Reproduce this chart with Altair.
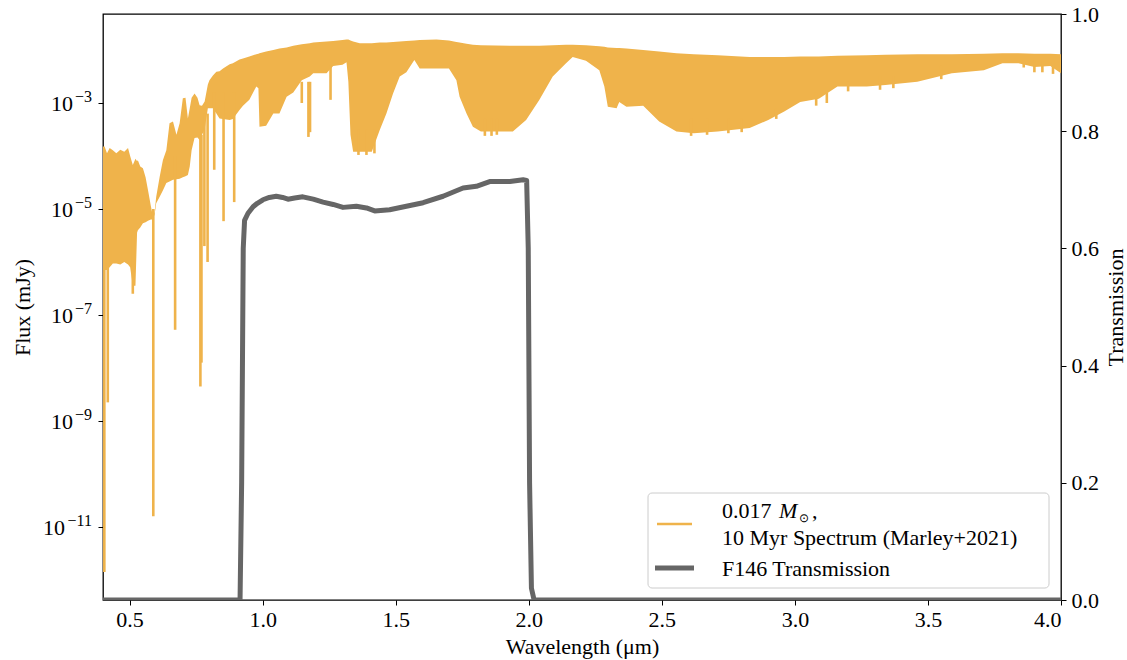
import altair as alt
import pandas as pd

# ---------------- data ----------------
# spectrum envelope: wavelength (um), lower / upper edge as log10(flux mJy)
wl = [0.400, 0.406, 0.415, 0.425, 0.437, 0.450, 0.465, 0.480, 0.494, 0.502, 0.512,
      0.522, 0.528, 0.531, 0.540, 0.550, 0.560, 0.569, 0.580, 0.588, 0.594, 0.600,
      0.613, 0.625, 0.638, 0.650, 0.663, 0.676, 0.688, 0.700, 0.710, 0.719, 0.726,
      0.733, 0.744, 0.755, 0.763, 0.772, 0.782, 0.794, 0.800, 0.813, 0.826, 0.838,
      0.851, 0.876, 0.888, 0.913, 0.926, 0.950, 0.976, 0.984, 0.988, 1.013, 1.040,
      1.063, 1.090, 1.115, 1.147, 1.177, 1.190, 1.240, 1.265, 1.300, 1.315, 1.322,
      1.330, 1.340, 1.365, 1.410, 1.440, 1.465, 1.490, 1.515, 1.540, 1.570, 1.590,
      1.653, 1.700, 1.728, 1.740, 1.766, 1.790, 1.820, 1.940, 1.990, 2.040, 2.090,
      2.140, 2.165, 2.215, 2.265, 2.284, 2.297, 2.330, 2.340, 2.367, 2.430, 2.490,
      2.555, 2.620, 2.710, 2.830, 2.900, 2.960, 3.020, 3.090, 3.160, 3.270, 3.340,
      3.460, 3.590, 3.710, 3.780, 3.840, 3.900, 3.960, 4.000]
lo_exp = [-6.15, -6.15, -6.15, -6.10, -6.03, -6.03, -6.05, -6.00, -6.05, -6.10, -6.45,
          -6.45, -5.45, -5.40, -5.35, -5.27, -5.25, -5.22, -5.20, -5.20, -5.10, -4.89,
          -4.77, -4.65, -4.51, -4.48, -4.45, -4.44, -4.43, -4.40, -4.38, -4.36, -4.20,
          -3.89, -3.66, -3.65, -3.70, -3.60, -3.50, -3.10, -3.10, -3.10, -3.20, -3.29,
          -3.30, -3.32, -3.30, -3.13, -3.05, -2.94, -2.69, -2.72, -3.45, -3.43, -3.20,
          -3.20, -2.88, -2.80, -2.57, -2.50, -2.44, -2.44, -2.30, -2.28, -2.23, -2.60,
          -3.60, -3.92, -3.92, -3.92, -3.51, -3.20, -2.82, -2.50, -2.42, -2.19, -2.35,
          -2.35, -2.35, -2.57, -2.88, -3.20, -3.45, -3.54, -3.54, -3.32, -2.94, -2.50,
          -2.25, -2.13, -2.20, -2.38, -2.69, -3.07, -3.10, -2.98, -3.07, -3.05, -3.35,
          -3.54, -3.57, -3.54, -3.47, -3.32, -3.16, -2.98, -2.92, -2.69, -2.69, -2.66,
          -2.60, -2.44, -2.38, -2.25, -2.25, -2.32, -2.30, -2.44]
hi_exp = [-3.82, -3.82, -3.95, -3.85, -3.89, -3.95, -3.88, -3.92, -3.85, -4.00, -4.17,
          -4.05, -4.10, -4.08, -4.20, -4.23, -4.40, -4.64, -4.95, -5.15, -5.05, -4.77,
          -4.39, -4.08, -3.89, -3.38, -3.35, -3.60, -3.38, -2.91, -2.90, -3.29, -3.10,
          -2.90, -2.82, -2.90, -3.04, -3.05, -2.97, -2.65, -2.57, -2.48, -2.41, -2.40,
          -2.35, -2.27, -2.25, -2.18, -2.16, -2.12, -2.08, -2.07, -2.06, -2.03, -2.00,
          -1.97, -1.95, -1.92, -1.89, -1.87, -1.86, -1.84, -1.83, -1.81, -1.80, -1.80,
          -1.82, -1.84, -1.87, -1.87, -1.86, -1.86, -1.85, -1.84, -1.83, -1.82, -1.81,
          -1.80, -1.82, -1.85, -1.86, -1.88, -1.90, -1.91, -1.92, -1.92, -1.92, -1.91,
          -1.90, -1.90, -1.91, -1.93, -1.94, -1.95, -1.96, -1.96, -1.97, -2.00, -2.03,
          -2.06, -2.08, -2.10, -2.13, -2.13, -2.13, -2.12, -2.12, -2.11, -2.10, -2.09,
          -2.08, -2.08, -2.07, -2.06, -2.06, -2.07, -2.07, -2.08]

# absorption lines: wavelength, top and bottom as log10(flux)
spike_wl = [0.405, 0.418, 0.512, 0.589, 0.671, 0.766, 0.770, 0.781, 0.793, 0.818,
            0.853, 0.893, 1.147, 1.172, 1.178, 1.255, 1.360, 1.390, 1.420, 1.835,
            1.860, 1.880, 2.610, 2.670, 2.750, 2.800, 2.930, 3.080, 3.120, 3.200,
            3.320, 3.370, 3.550, 3.860, 3.900, 3.930, 3.970]
spike_top = [-4.5, -4.5, -5.5, -5.0, -4.0, -3.6, -3.6, -3.2, -3.2, -2.8,
             -2.8, -2.8, -2.6, -2.6, -2.6, -2.3, -3.5, -3.5, -3.5, -3.3,
             -3.3, -3.3, -3.3, -3.3, -3.3, -3.3, -3.1, -2.8, -2.8, -2.6,
             -2.5, -2.5, -2.3, -2.2, -2.2, -2.2, -2.2]
spike_bot = [-11.85, -8.65, -6.60, -10.80, -7.28, -8.35, -7.90, -5.70, -6.00, -4.26,
             -5.23, -4.87, -3.00, -3.64, -3.55, -2.94, -3.98, -3.98, -3.95, -3.62,
             -3.62, -3.60, -3.62, -3.60, -3.57, -3.55, -3.30, -3.05, -3.00, -2.78,
             -2.75, -2.72, -2.55, -2.33, -2.42, -2.42, -2.45]

# F146 filter transmission
trans_wl = [0.400, 0.915, 0.921, 0.927, 0.932, 0.945, 0.964, 0.980, 1.001, 1.025,
            1.051, 1.075, 1.095, 1.120, 1.151, 1.190, 1.227, 1.265, 1.302, 1.352,
            1.390, 1.421, 1.477, 1.540, 1.603, 1.678, 1.753, 1.803, 1.853, 1.929,
            1.979, 1.992, 1.998, 2.003, 2.010, 2.020, 4.000]
trans_val = [0.000, 0.000, 0.200, 0.600, 0.648, 0.660, 0.671, 0.677, 0.683, 0.687,
             0.689, 0.687, 0.684, 0.686, 0.688, 0.684, 0.679, 0.675, 0.670, 0.672,
             0.669, 0.664, 0.666, 0.672, 0.678, 0.689, 0.703, 0.706, 0.714, 0.714,
             0.717, 0.716, 0.600, 0.200, 0.020, 0.000, 0.000]

# left-axis ticks (power-of-ten labels) and legend texts
ytick_vals = [1e-11, 1e-9, 1e-7, 1e-5, 1e-3]
ytick_exps = ["\u221211", "\u22129", "\u22127", "\u22125", "\u22123"]
legend_mass = ["0.017", "M", "\u2299", ","]
legend_labels = ["10 Myr Spectrum (Marley+2021)", "F146 Transmission"]

SPEC_COLOR = "#EFB34B"
TRANS_COLOR = "#666666"
FONT = "Liberation Serif"
FS = 22

# ---------------- tables ----------------
spec = pd.DataFrame({"wl": wl,
                     "lo": [10 ** e for e in lo_exp],
                     "hi": [10 ** e for e in hi_exp]})
spikes = pd.DataFrame({"wl": spike_wl,
                       "top": [10 ** e for e in spike_top],
                       "bot": [10 ** e for e in spike_bot]})
trans = pd.DataFrame({"wl": trans_wl, "T": trans_val})
yticks = pd.DataFrame({"v": ytick_vals, "e": ytick_exps})

W, H = 958, 586
xscale = alt.Scale(domain=[0.4, 4.0], nice=False, zero=False)
yflux = alt.Scale(type="log", domain=[10 ** -12.38, 10 ** -1.32], nice=False)

xaxis = alt.Axis(values=[0.5, 1.0, 1.5, 2.0, 2.5, 3.0, 3.5, 4.0], format=".1f",
                 title="Wavelength (\u03BCm)", titlePadding=6, labelPadding=4)
yaxis = alt.Axis(values=ytick_vals, labels=False,
                 title="Flux (mJy)", orient="left", titleX=-81, titleY=H / 2,
                 titleAngle=270, titleBaseline="middle")

band = alt.Chart(spec).mark_area(color=SPEC_COLOR, opacity=1, clip=True,
                                 interpolate="linear").encode(
    x=alt.X("wl:Q", scale=xscale, axis=xaxis),
    y=alt.Y("lo:Q", scale=yflux, axis=yaxis),
    y2="hi:Q",
)

lines = alt.Chart(spikes).mark_rule(color=SPEC_COLOR, strokeWidth=2.6, clip=True).encode(
    x=alt.X("wl:Q", scale=xscale, axis=xaxis),
    y=alt.Y("bot:Q", scale=yflux, axis=yaxis),
    y2="top:Q",
)

# tick labels 10^n drawn as base + raised exponent
exp_text = alt.Chart(yticks).mark_text(align="right", baseline="alphabetic", font=FONT,
                                       fontSize=16, dy=-1, color="black").encode(
    x=alt.value(-11), y=alt.Y("v:Q", scale=yflux, axis=yaxis), text="e:N")
base_short = alt.Chart(yticks).transform_filter("length(datum.e) <= 2").mark_text(
    align="right", baseline="alphabetic", font=FONT, fontSize=FS, dy=8,
    color="black").encode(
    x=alt.value(-30), y=alt.Y("v:Q", scale=yflux, axis=yaxis), text=alt.value("10"))
base_long = alt.Chart(yticks).transform_filter("length(datum.e) > 2").mark_text(
    align="right", baseline="alphabetic", font=FONT, fontSize=FS, dy=8,
    color="black").encode(
    x=alt.value(-38), y=alt.Y("v:Q", scale=yflux, axis=yaxis), text=alt.value("10"))

left = alt.layer(band, lines, exp_text, base_short, base_long)

trans_line = alt.Chart(trans).mark_line(color=TRANS_COLOR, strokeWidth=5, clip=True,
                                        strokeJoin="round").encode(
    x=alt.X("wl:Q", scale=xscale),
    y=alt.Y("T:Q", scale=alt.Scale(domain=[0, 1], nice=False),
            axis=alt.Axis(orient="right", values=[0, 0.2, 0.4, 0.6, 0.8, 1.0],
                          format=".1f", title="Transmission", titleAngle=270,
                          titleX=54, titleY=H / 2, titleBaseline="middle",
                          labelPadding=5)),
)

# ---------------- legend ----------------
one = pd.DataFrame({"k": [0]})
leg_box = alt.Chart(one).mark_rect(fill="white", fillOpacity=0.8, stroke="#cccccc",
                                   strokeWidth=1, cornerRadius=4).encode(
    x=alt.value(545), x2=alt.value(946), y=alt.value(479), y2=alt.value(574))
leg_spec = alt.Chart(one).mark_rule(color=SPEC_COLOR, strokeWidth=2.5).encode(
    x=alt.value(554), x2=alt.value(589), y=alt.value(510))
leg_trans = alt.Chart(one).mark_rule(color=TRANS_COLOR, strokeWidth=5).encode(
    x=alt.value(552), x2=alt.value(591), y=alt.value(554))


def leg_text(t, x, y, size=FS, style="normal"):
    return alt.Chart(one).mark_text(align="left", baseline="alphabetic", font=FONT,
                                    fontSize=size, fontStyle=style,
                                    color="black").encode(
        x=alt.value(x), y=alt.value(y), text=alt.value(t))


leg_items = [
    leg_text(legend_mass[0], 619, 504),
    leg_text(legend_mass[1], 676, 504, style="italic"),
    leg_text(legend_mass[2], 696, 508, size=12),
    leg_text(legend_mass[3], 709, 504),
    leg_text(legend_labels[0], 619, 531),
    leg_text(legend_labels[1], 619, 562),
]

chart = alt.layer(left, trans_line, leg_box, leg_spec, leg_trans, *leg_items).resolve_scale(
    y="independent"
).properties(
    width=W, height=H,
    autosize=alt.AutoSizeParams(type="none"),
    padding={"left": 103, "top": 14, "right": 66, "bottom": 60},
    background="white",
).configure_view(
    stroke="black", strokeWidth=1.3
).configure_axis(
    labelFont=FONT, titleFont=FONT, labelFontSize=FS, titleFontSize=FS,
    titleFontWeight="normal", labelColor="black", titleColor="black",
    tickColor="black", tickSize=5, tickWidth=1, grid=False, domain=False,
)

chart.save("out.html", embed_options={"renderer": "svg", "actions": False})
